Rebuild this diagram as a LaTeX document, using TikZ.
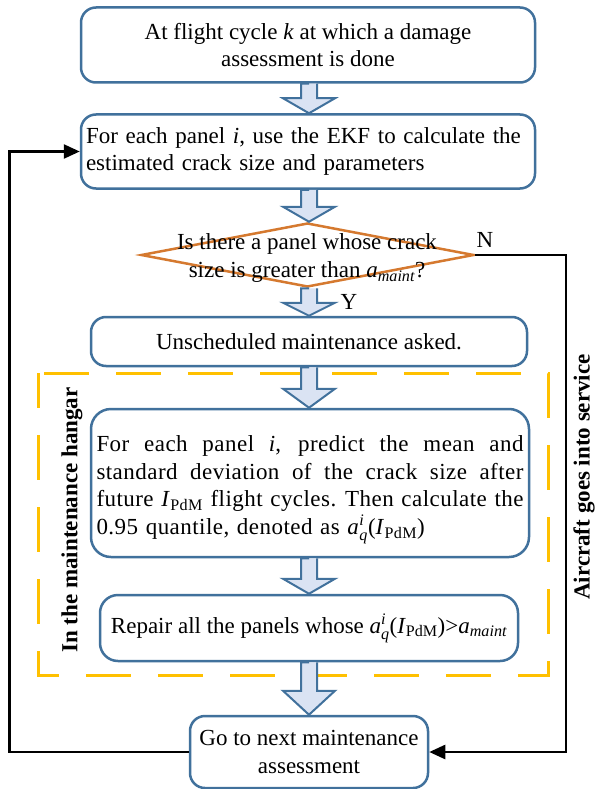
\documentclass[tikz,border=0pt]{standalone}
\usepackage{fontspec}
\usepackage{amsmath}
\setmainfont{Liberation Serif}
\usetikzlibrary{shapes.geometric,arrows.meta,calc}
\definecolor{boxblue}{HTML}{41719C}
\definecolor{arrfill}{HTML}{DAE3F3}
\definecolor{dorange}{HTML}{D5792F}
\definecolor{dyellow}{HTML}{FFC000}
% block arrow from node #1 (south) to node #2 (north), head length #3
\newcommand\blockarr[3]{%
  \path let \p1=(#1.south), \p2=(#2.north) in
    [draw=boxblue, fill=arrfill, line width=2pt, line join=miter]
    (309pt,\y1) -- (309pt-8pt,\y1) -- (309pt-8pt,\y2+#3pt) -- (309pt-26pt,\y2+#3pt)
    -- (309pt,\y2) -- (309pt+26pt,\y2+#3pt) -- (309pt+8pt,\y2+#3pt) -- (309pt+8pt,\y1);%
}
% a line justified to the full width
\newcommand\fullline[1]{\leavevmode\hbox to 427pt{\spaceskip=0.25em plus 1fil\relax\xspaceskip=0.3em plus 1fil\relax #1}}
\begin{document}
\begin{tikzpicture}[x=1pt,y=-1pt,
  every node/.style={font=\fontsize{23}{27.6}\selectfont},
  rbox/.style={draw=boxblue, line width=2.5pt, rounded corners=15pt, fill=white,
    inner sep=0pt, align=center},
  conn/.style={line width=2.5pt, -{Triangle[length=16pt,width=14pt]}},
  sidelabel/.style={rotate=90, font=\fontsize{23}{27.6}\selectfont\bfseries},
  hangar/.style={draw=dyellow, line width=3pt, dash pattern=on 45pt off 27pt, dash phase=10pt}]
\useasboundingbox[fill=white] (0,0) rectangle (595,789);

% dashed hangar frame
\draw[hangar] (38.5,373) rectangle (548,675.5);

% boxes
\node[rbox, minimum width=454pt, minimum height=75pt] (b1) at (308,45)
  {At flight cycle \textit{k} at which a damage\\assessment is done};
\node[rbox, minimum width=454pt, minimum height=74pt, text width=444pt, align=left] (b2) at (308,151.5)
  {For each panel \textit{i}, use the EKF to calculate the\\estimated crack size and parameters};
\node[diamond, draw=dorange, line width=2.5pt, minimum width=333pt, minimum height=64pt, inner sep=0pt] (d) at (307.5,255) {};
\node[align=center, inner sep=0pt] (dt) at (307,258)
  {Is there a panel whose crack\\size is greater than \textit{a}$_{\textit{maint}}$?};
\node[rbox, minimum width=436pt, minimum height=49pt] (b3) at (309,341.5)
  {Unscheduled maintenance asked.};
\node[rbox, minimum width=438pt, minimum height=148pt, rounded corners=20pt] (b4) at (310,483) {};
\node[inner sep=0pt, text width=427pt, align=left] (b4t) at (310,490)
  {\addfontfeatures{LetterSpace=2}%
   \fullline{For each panel \textit{i}, predict the mean and}\\
   \fullline{standard deviation of the crack size after}\\
   \fullline{future \textit{I}$_{\text{PdM}}$ flight cycles. Then calculate the}\\
   0.95 quantile, denoted as \textit{a}$^{\textit{i}}_{\textit{q}}$(\textit{I}$_{\text{PdM}}$)};
\node[rbox, minimum width=418pt, minimum height=66pt, rounded corners=18pt] (b5) at (309,628)
  {Repair all the panels whose \textit{a}$^{\textit{i}}_{\textit{q}}$(\textit{I}$_{\text{PdM}}$)>\textit{a}$_{\textit{maint}}$};
\node[rbox, minimum width=238pt, minimum height=72pt] (b6) at (309,752)
  {Go to next maintenance\\assessment};

% block arrows
\blockarr{b1}{b2}{15}
\blockarr{b2}{d}{15}
\blockarr{d}{b3}{13}
\blockarr{b3}{b4}{19}
\blockarr{b4}{b5}{15}
\blockarr{b5}{b6}{24}

% yes / no labels
\node[inner sep=0pt] (ylab) at (349,302) {Y};
\node[inner sep=0pt] (nlab) at (485,240) {N};

% loop connectors
\coordinate (lx) at (9.5,0);
\coordinate (rx) at (566,0);
\draw[conn] (b6.west) -- (b6.west -| lx) |- (b2.west);
\draw[conn] (d.east) -- (d.east -| rx) |- (b6.east);

% side labels
\node[sidelabel] (hl) at (72,520) {In the maintenance hangar};
\node[sidelabel] (sl) at (584,477) {Aircraft goes into service};
\end{tikzpicture}
\end{document}
